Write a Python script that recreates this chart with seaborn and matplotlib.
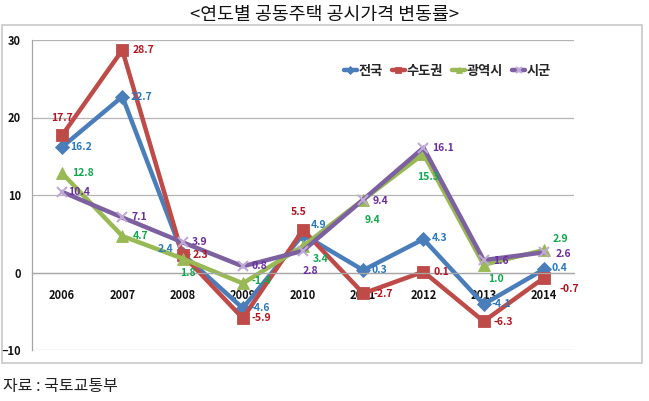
import pandas as pd
import matplotlib
matplotlib.use('Agg')
import matplotlib.pyplot as plt
import seaborn as sns
from matplotlib.ticker import MultipleLocator, FixedLocator

# data
years = ['2006', '2007', '2008', '2009', '2010', '2011', '2012', '2013', '2014']
nation = [16.2, 22.7, 2.4, -4.6, 4.9, 0.3, 4.3, -4.1, 0.4]
capital = [17.7, 28.7, 2.3, -5.9, 5.5, -2.7, 0.1, -6.3, -0.7]
metro = [12.8, 4.7, 1.8, -1.4, 3.4, 9.4, 15.3, 1.0, 2.9]
province = [10.4, 7.1, 3.9, 0.8, 2.8, 9.4, 16.1, 1.6, 2.6]
series_names = ['전국', '수도권', '광역시', '시군']

df = pd.DataFrame({'year': years, '전국': nation, '수도권': capital,
                   '광역시': metro, '시군': province})
df['x'] = range(len(years))

sns.set_theme(style='white')
plt.rcParams['font.family'] = ['Noto Sans CJK KR', 'DejaVu Sans']

line_colors = {'전국': '#4A7EBB', '수도권': '#BE4B48', '광역시': '#98B954', '시군': '#7D60A0'}
label_colors = {'전국': '#2878BE', '수도권': '#B4141E', '광역시': '#10A84E', '시군': '#6A2C9E'}
markers = {'전국': 'D', '수도권': 's', '광역시': '^', '시군': 'x'}
msizes = {'전국': 7, '수도권': 8.5, '광역시': 9, '시군': 7}

# label offsets in pixels (dx, dy, ha)
offsets = {
    '전국': [(8, 0, 'left'), (8, 0, 'left'), (-9, 5, 'right'), (8, 0, 'left'), (8, 10, 'left'),
           (8, 0, 'left'), (8, 1, 'left'), (8, 0, 'left'), (8, 1, 'left')],
    '수도권': [(0, 17, 'center'), (10, 0, 'left'), (10, 0, 'left'), (9, 0, 'left'), (-4, 18, 'center'),
            (10, -1, 'left'), (10, 0, 'left'), (10, -1, 'left'), (16, -11, 'left')],
    '광역시': [(10, 0, 'left'), (10, 0, 'left'), (5, -14, 'center'), (9, 2, 'left'), (10, -13, 'left'),
            (9, -20, 'center'), (5, -23, 'center'), (12, -14, 'center'), (17, 11, 'center')],
    '시군': [(6, 0, 'left'), (9, 0, 'left'), (9, 0, 'left'), (9, 0, 'left'), (7, -20, 'center'),
           (9, -1, 'left'), (9, 0, 'left'), (9, -1, 'left'), (12, -2, 'left')],
}

fig = plt.figure(figsize=(6.49, 4.01), dpi=100)
W, H = 649, 401
ax = fig.add_axes([32 / W, 1 - 350 / H, (574 - 32) / W, (350 - 40) / H])

# outer chart frame
fig.patches.append(plt.Rectangle((2 / W, 1 - 363 / H), 640 / W, 338 / H, transform=fig.transFigure,
                                 fill=False, edgecolor='#C8C8C8', linewidth=1.2))

for name in series_names:
    sns.lineplot(data=df, x='x', y=name, ax=ax, color=line_colors[name], linewidth=3.2,
                 marker=markers[name], markersize=msizes[name], markeredgewidth=1.5 if name == '시군' else 0.6,
                 markeredgecolor='#C0A8D8' if name == '시군' else line_colors[name],
                 label=name, legend=False)
    for i, v in enumerate(df[name]):
        dx, dy, ha = offsets[name][i]
        ax.annotate(f'{v:.1f}', (i, v), xytext=(dx, dy), textcoords='offset pixels',
                    ha=ha, va='center', fontsize=7.5, fontweight='bold', color=label_colors[name])

ax.set_xlim(-0.5, len(years) - 0.5)
ax.set_ylim(-10, 30)
ax.yaxis.set_major_locator(MultipleLocator(10))
ax.grid(axis='y', color='#B4B4B4', linewidth=0.9)
ax.set_axisbelow(True)
ax.set_xlabel('')
ax.set_ylabel('')

for s in ['top', 'right']:
    ax.spines[s].set_visible(False)
for s in ['left', 'bottom']:
    ax.spines[s].set_color('#A6A6A6')
    ax.spines[s].set_linewidth(0.9)
ax.spines['bottom'].set_position(('data', 0))

ax.set_xticks(range(len(years)))
ax.set_xticklabels(years, fontsize=8, fontweight='bold', color='#111111')
ax.xaxis.set_minor_locator(FixedLocator([i - 0.5 for i in range(len(years) + 1)]))
ax.tick_params(axis='x', which='major', length=0, pad=12)
ax.tick_params(axis='x', which='minor', length=3, color='#A6A6A6', direction='out')
ax.tick_params(axis='y', length=4, color='#A6A6A6', direction='out', pad=4,
               labelsize=8, labelcolor='#111111')
for t in ax.get_yticklabels():
    t.set_fontweight('bold')

leg = ax.legend(handles=ax.get_lines()[:4], labels=series_names, ncol=4, loc='upper left',
                bbox_to_anchor=(300 / 542, 1 - 12 / 310), frameon=False, handlelength=1.0,
                handletextpad=0.1, columnspacing=0.7, markerscale=0.55,
                prop={'size': 9.5, 'weight': 'bold'})

fig.text(325 / W, 1 - 15 / H, '<연도별 공동주택 공시가격 변동률>', ha='center', va='center',
         fontsize=13.2, fontweight='medium', color='#111111')
fig.text(3 / W, 1 - 387 / H, '자료 : 국토교통부', ha='left', va='center', fontsize=11.5, color='#222222')

fig.savefig('out.png', dpi=100)
